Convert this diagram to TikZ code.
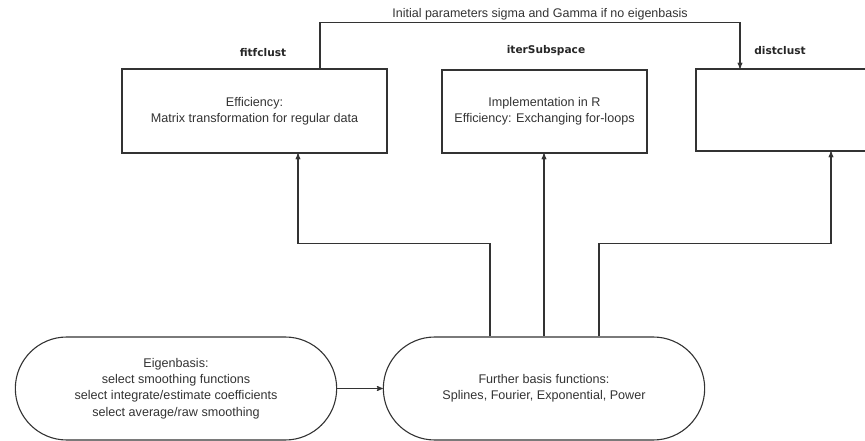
\documentclass[tikz,border=0pt]{standalone}
\usepackage{fontspec}
\setmainfont{Liberation Sans}
\newfontfamily\labelfont{DejaVu Sans}
\usepackage{tikz}
\usetikzlibrary{arrows,shapes.misc}

\tikzset{
  box/.style={draw=black!80,line width=1.1bp,rectangle,align=center,font=\fontsize{12.6bp}{16bp}\selectfont,text=black!80},
  pill/.style={draw=black!80,line width=1.1bp,rounded rectangle,rounded rectangle arc length=180,align=center,
               minimum width=328bp,minimum height=103bp,font=\fontsize{12.6bp}{16.3bp}\selectfont,text=black!80},
  tag/.style={font=\labelfont\bfseries\fontsize{10.6bp}{12bp}\selectfont,text=black!85},
  arr/.style={->,draw=black!80,line width=1.1bp}
}

\begin{document}
\begin{tikzpicture}[>=stealth',x=1bp,y=-1bp]

	\useasboundingbox (0,0) rectangle (865,441);
	\clip (0,0) rectangle (865,441);

  	\node[box,minimum width=265bp,minimum height=84bp] (fitfclust) at (254.5,111)	{Efficiency:\\Matrix transformation for regular data};
  	\node[box,minimum width=205bp,minimum height=83bp] (iter) at (544.5,111.5)	{Implementation in R\\Efficiency: Exchanging for-loops};
  	\node[box,minimum width=200bp,minimum height=82bp] (distclust) at (796,110)	{};

	\node[tag] (fitfclust label) at (263,53)	{fitfclust};
	\node[tag] (iter label) at (546,51)		{iterSubspace};
	\node[tag] (distclust label) at (780,51)	{distclust};

  	\node[pill] (eigen) at (176,388.5)		{Eigenbasis:\\select smoothing functions\\select integrate/estimate coefficients\\select average/raw smoothing};
  	\node[pill] (further) at (544,388.5)		{Further basis functions:\\Splines, Fourier, Exponential, Power};

	\draw[arr] (eigen.east) -- (further.west);

	\draw[arr] ([xshift=-54bp]further.north) -- ++(0,-93) -| ([xshift=43.5bp]fitfclust.south);
	\draw[arr] (further.north) -- (further.north |- iter.south);
	\draw[arr] ([xshift=55bp]further.north) -- ++(0,-93) -| ([xshift=35bp]distclust.south);

	% parameters handed over when there is no eigenbasis
	\draw[arr] ([xshift=65.5bp]fitfclust.north) -- ++(0,-46) coordinate (bend) -| ([xshift=-56bp]distclust.north);
	\node[font=\fontsize{12.5bp}{14bp}\selectfont,text=black!80] (param) at (540,14)	{Initial parameters sigma and Gamma if no eigenbasis};

\end{tikzpicture}
\end{document}
